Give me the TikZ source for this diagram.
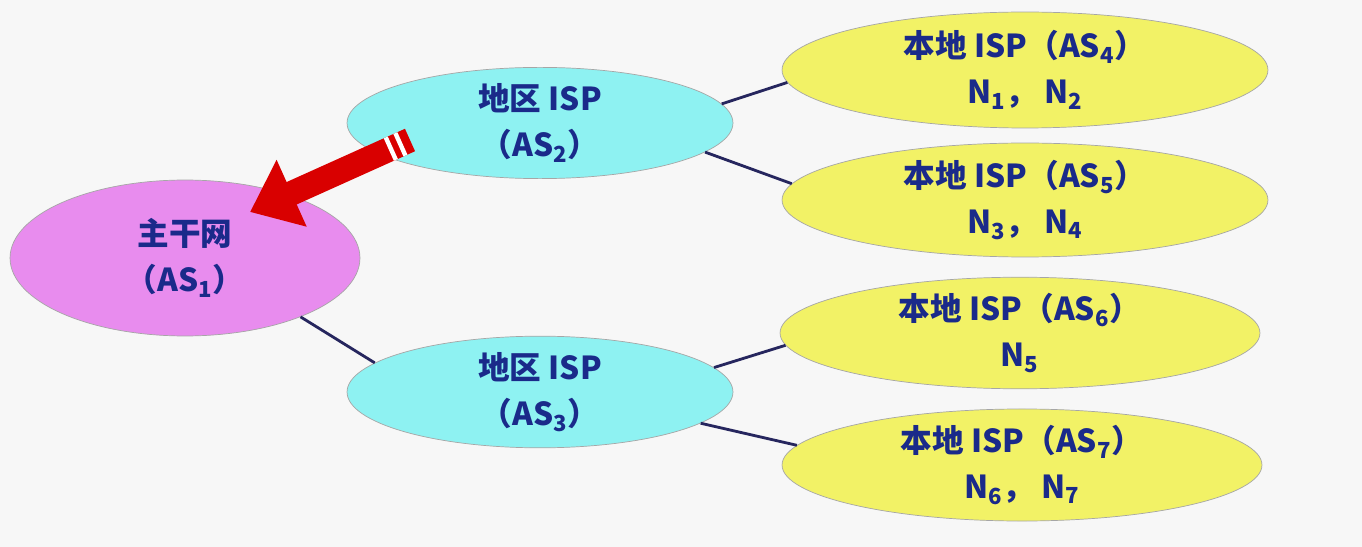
\documentclass[tikz,border=0pt]{standalone}
\usepackage{fontspec}
\newfontfamily\cjk{Noto Sans CJK SC}
\usetikzlibrary{shapes.geometric, arrows.meta, calc}
\definecolor{txtblue}{HTML}{1A2A8A}
\definecolor{linenavy}{HTML}{26265E}
\definecolor{bbfill}{HTML}{E88CEE}
\definecolor{rgfill}{HTML}{8EF2F2}
\definecolor{lcfill}{HTML}{F2F266}
\newcommand{\sbs}[1]{\textsubscript{#1}}
\tikzset{
  asnode/.style={ellipse, draw=gray!70, inner sep=0pt, align=center,
    font=\cjk\bfseries\fontsize{18}{26}\selectfont, text=txtblue},
  link/.style={draw=linenavy, line width=1.6pt}
}
\begin{document}
\begin{tikzpicture}[x=0.02cm, y=-0.02cm]
\useasboundingbox[fill=gray!6] (0,0) rectangle (1362,547);
\node[asnode, fill=bbfill, minimum width=7cm, minimum height=3.12cm] (as1) at (185,258) {主干网\\（AS\sbs{1}）};
\node[asnode, fill=rgfill, minimum width=7.72cm, minimum height=1.84cm] (as2) at (540,123) {地区 ISP\\（AS\sbs{2}）};
\node[asnode, fill=rgfill, minimum width=7.72cm, minimum height=1.84cm] (as3) at (540,392) {地区 ISP\\（AS\sbs{3}）};
\node[asnode, fill=lcfill, minimum width=9.72cm, minimum height=2.32cm] (as4) at (1025,70) {本地 ISP（AS\sbs{4}）\\N\sbs{1}， N\sbs{2}};
\node[asnode, fill=lcfill, minimum width=9.72cm, minimum height=2.28cm] (as5) at (1025,200) {本地 ISP（AS\sbs{5}）\\N\sbs{3}， N\sbs{4}};
\node[asnode, fill=lcfill, minimum width=9.6cm, minimum height=2.08cm] (as6) at (1020,333) {本地 ISP（AS\sbs{6}）\\N\sbs{5}};
\node[asnode, fill=lcfill, minimum width=9.6cm, minimum height=2.2cm] (as7) at (1022,465) {本地 ISP（AS\sbs{7}）\\N\sbs{6}， N\sbs{7}};
% links
\draw[link] (as2.6) -- (as4.183);
\draw[link] (as2.350) -- (as5.176);
\draw[link] (as1.333) -- (as3.170);
\draw[link] (as3.8) -- (as6.183);
\draw[link] (as3.349) -- (as7.175);
% red arrow
\coordinate (tail) at (410,140);
\coordinate (head) at (250,212);
\draw[red!85!black, line width=14pt, -{Triangle[length=26pt, width=40pt]}] (tail) -- (head);
\foreach \t in {0.06,0.12} \draw[white, line width=2.5pt] ($(tail)!\t!(head)!7pt!90:(head)$) -- ($(tail)!\t!(head)!7pt!-90:(head)$);
\end{tikzpicture}
\end{document}
